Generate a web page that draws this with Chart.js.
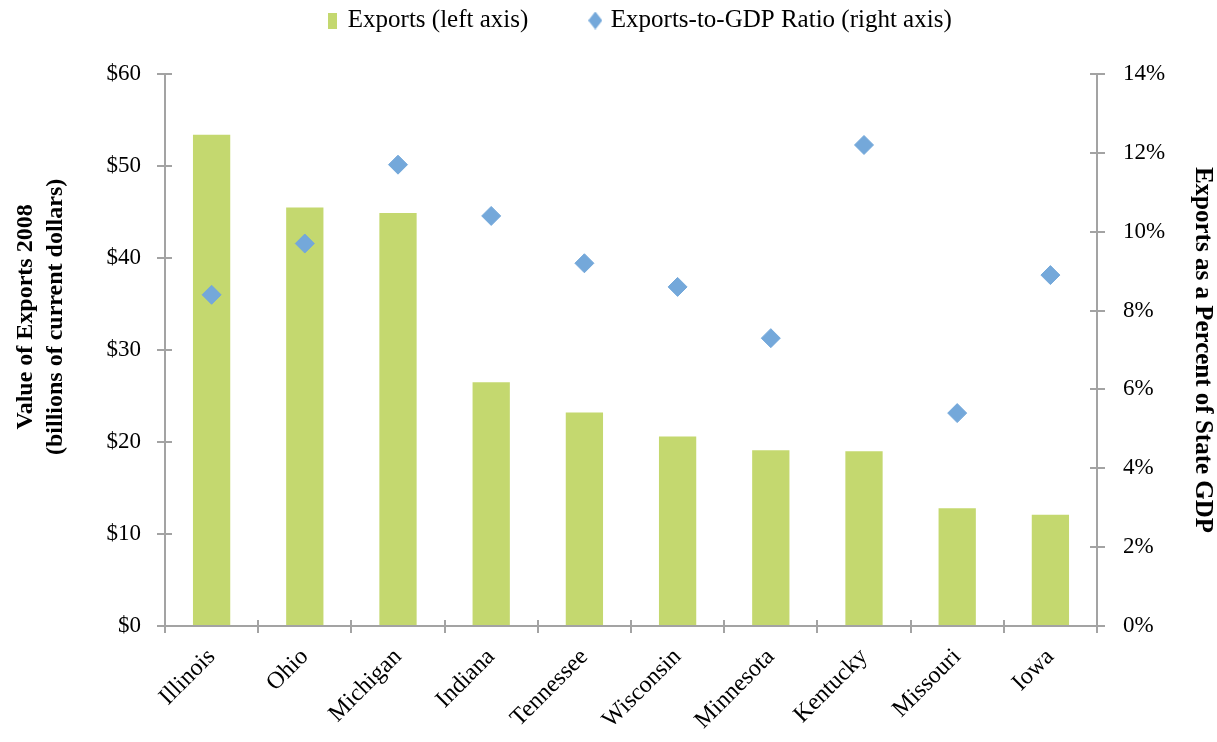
<!DOCTYPE html>
<html lang="en">
<head>
    <meta charset="UTF-8">
    <title>Midwest State Exports, 2008</title>
    <script src="https://cdn.jsdelivr.net/npm/chart.js"></script>
    <style>
        html, body {
            margin: 0;
            padding: 0;
            background: #ffffff;
        }
        .chart-wrap {
            width: 1217px;
            height: 742px;
        }
    </style>
</head>
<body>

    <div class="chart-wrap">
        <canvas id="exportsChart" width="1217" height="742"></canvas>
    </div>

    <script>
        // 2008 export values (billions of current dollars) and exports as share of state GDP (%)
        const states = ['Illinois', 'Ohio', 'Michigan', 'Indiana', 'Tennessee', 'Wisconsin', 'Minnesota', 'Kentucky', 'Missouri', 'Iowa'];
        const exportsBillions = [53.4, 45.5, 44.9, 26.5, 23.2, 20.6, 19.1, 19.0, 12.8, 12.1];
        const exportsShareOfGdp = [8.4, 9.7, 11.7, 10.4, 9.2, 8.6, 7.3, 12.2, 5.4, 8.9];

        const leftTitleLines = ['Value of Exports 2008', '(billions of current dollars)'];
        const rightTitle = 'Exports as a Percent of State GDP';

        const barGreen = '#C4D86F';
        const dotBlue = '#74A8DA';
        const axisGrey = '#A3A3A3';
        const serif = "'Liberation Serif', 'DejaVu Serif', serif";

        Chart.defaults.color = '#000000';
        Chart.defaults.font.family = serif;

        // small swatches for the legend
        function swatch(w, h, draw) {
            const c = document.createElement('canvas');
            c.width = w;
            c.height = h;
            draw(c.getContext('2d'), w, h);
            return c;
        }
        const barSwatch = swatch(9, 16, (g, w, h) => {
            g.fillStyle = barGreen;
            g.fillRect(0, 0, w, h);
        });
        const diamondSwatch = swatch(14, 18, (g, w, h) => {
            g.fillStyle = dotBlue;
            g.beginPath();
            g.moveTo(w / 2, 0);
            g.lineTo(w, h / 2);
            g.lineTo(w / 2, h);
            g.lineTo(0, h / 2);
            g.closePath();
            g.fill();
        });

        // short tick stubs on the inside of each axis line
        const innerTicks = {
            id: 'innerTicks',
            afterDatasetsDraw(chart) {
                const { ctx, chartArea, scales } = chart;
                ctx.save();
                ctx.strokeStyle = axisGrey;
                ctx.lineWidth = 2;
                ctx.beginPath();
                scales.y.ticks.forEach((t, i) => {
                    const py = Math.round(scales.y.getPixelForTick(i));
                    ctx.moveTo(chartArea.left, py);
                    ctx.lineTo(chartArea.left + 7, py);
                });
                scales.y1.ticks.forEach((t, i) => {
                    const py = Math.round(scales.y1.getPixelForTick(i));
                    ctx.moveTo(chartArea.right, py);
                    ctx.lineTo(chartArea.right - 7, py);
                });
                const n = states.length;
                const step = (chartArea.right - chartArea.left) / n;
                for (let i = 0; i <= n; i++) {
                    const px = Math.round(chartArea.left + i * step);
                    ctx.moveTo(px, chartArea.bottom);
                    ctx.lineTo(px, chartArea.bottom - 6);
                }
                ctx.stroke();
                ctx.restore();
            }
        };

        // two-line title for the left axis, sitting a bit above the middle
        const leftTitle = {
            id: 'leftTitle',
            afterDraw(chart) {
                const { ctx, chartArea } = chart;
                const s = chart.scales.y;
                const cy = chartArea.top + (chartArea.bottom - chartArea.top) * 0.44;
                ctx.save();
                ctx.font = 'bold 24px ' + serif;
                ctx.fillStyle = '#000000';
                ctx.textAlign = 'center';
                ctx.textBaseline = 'middle';
                leftTitleLines.forEach((line, i) => {
                    ctx.save();
                    ctx.translate(s.left + 26 + i * 30, cy);
                    ctx.rotate(-Math.PI / 2);
                    ctx.fillText(line, 0, 0);
                    ctx.restore();
                });
                ctx.restore();
            }
        };

        // legend row sits high and a little right of centre
        const legendShift = {
            id: 'legendShift',
            afterLayout(chart) {
                const lg = chart.legend;
                lg.left += 32;
                lg.right += 32;
                lg.top -= 56;
            }
        };

        const ctx = document.getElementById('exportsChart').getContext('2d');
        new Chart(ctx, {
            type: 'bar',
            data: {
                labels: states,
                datasets: [
                    {
                        label: 'Exports (left axis)',
                        data: exportsBillions,
                        backgroundColor: barGreen,
                        borderWidth: 0,
                        barPercentage: 0.4,
                        categoryPercentage: 1.0,
                        yAxisID: 'y',
                        order: 1
                    },
                    {
                        type: 'line',
                        label: 'Exports-to-GDP Ratio (right axis)',
                        data: exportsShareOfGdp,
                        showLine: false,
                        pointStyle: 'rectRot',
                        pointRadius: 9.5,
                        pointBackgroundColor: dotBlue,
                        pointBorderColor: dotBlue,
                        pointBorderWidth: 1,
                        yAxisID: 'y1',
                        order: 0
                    }
                ]
            },
            options: {
                responsive: false,
                animation: false,
                layout: { padding: 0 },
                plugins: {
                    tooltip: { enabled: false },
                    legend: {
                        position: 'top',
                        maxHeight: 74,
                        labels: {
                            usePointStyle: true,
                            boxWidth: 6,
                            boxHeight: 6,
                            padding: 64,
                            font: { size: 25, family: serif },
                            color: '#000000',
                            generateLabels: () => [
                                { text: 'Exports (left axis)', pointStyle: barSwatch, fillStyle: barGreen, strokeStyle: barGreen, lineWidth: 0, datasetIndex: 0 },
                                { text: 'Exports-to-GDP Ratio (right axis)', pointStyle: diamondSwatch, fillStyle: dotBlue, strokeStyle: dotBlue, lineWidth: 0, datasetIndex: 1 }
                            ]
                        }
                    }
                },
                scales: {
                    x: {
                        grid: {
                            display: true,
                            offset: true,
                            drawOnChartArea: false,
                            tickLength: 7,
                            color: axisGrey,
                            lineWidth: 2
                        },
                        border: { color: axisGrey, width: 2 },
                        ticks: {
                            autoSkip: false,
                            minRotation: 45,
                            maxRotation: 45,
                            padding: 10,
                            font: { size: 24 }
                        },
                        afterFit: s => { s.height = 116; }
                    },
                    y: {
                        position: 'left',
                        min: 0,
                        max: 60,
                        grid: {
                            drawOnChartArea: false,
                            tickLength: 8,
                            color: axisGrey,
                            lineWidth: 2
                        },
                        border: { color: axisGrey, width: 2 },
                        ticks: {
                            stepSize: 10,
                            padding: 16,
                            font: { size: 23 },
                            callback: v => '$' + v
                        },
                        afterFit: s => { s.width = 165; }
                    },
                    y1: {
                        position: 'right',
                        min: 0,
                        max: 14,
                        grid: {
                            drawOnChartArea: false,
                            tickLength: 8,
                            color: axisGrey,
                            lineWidth: 2
                        },
                        border: { color: axisGrey, width: 2 },
                        ticks: {
                            stepSize: 2,
                            padding: 18,
                            font: { size: 23 },
                            callback: v => v + '%'
                        },
                        title: {
                            display: true,
                            text: rightTitle,
                            font: { size: 25, weight: 'bold' },
                            lineHeight: 1.2,
                            padding: { top: 0, bottom: 0 }
                        },
                        afterFit: s => { s.width = 120; }
                    }
                }
            },
            plugins: [innerTicks, leftTitle, legendShift]
        });
    </script>

</body>
</html>
